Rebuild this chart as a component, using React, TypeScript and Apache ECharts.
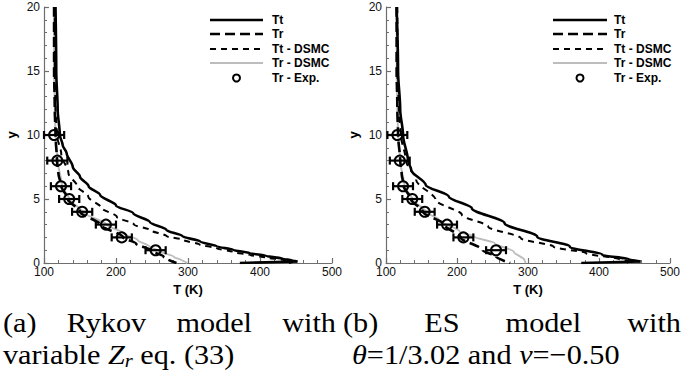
import React, { useEffect, useRef } from "react";
import * as echarts from "echarts";

// ---- data: [T (K), y] ----
const ttA = [[116,20],[117,15],[119,12],[122,10],[126,9.2],[131.5,8.57],[140,7.5],[150,6.74],[162,6],[178,5.31],[200,4.5],[224,3.88],[247,3.2],[270,2.58],[292,2.1],[317,1.67],[340,1.3],[363,1.02],[386,0.77],[409,0.55],[432,0.33],[445,0.2],[452,0.12]];
const ttWallA = [[452,0.12],[372,0]];
const trA = [[114,20],[114,15],[115,12],[116,10],[118,8],[120,7],[124,6],[133,5],[150,4],[178,3],[210,2],[228,1.5],[248,1],[266,0.5],[284,0]];
const ttDsmcA = [[115,20],[115,15],[116,12],[118,10],[124,8.5],[134,7],[146,6],[161.5,5.18],[180,4.3],[201,3.62],[225,3],[247,2.58],[270,2.1],[293.5,1.8],[316,1.45],[340,1.15],[363,0.85],[386,0.63],[409,0.42],[432,0.23],[446,0.1],[440,0]];
const trDsmcA = [[114,20],[114,15],[115,12],[116,10],[119,8],[125,6],[135,5],[153,4],[187,3],[210,2.32],[230,1.8],[247,1.27],[262,0.9],[280,0.49],[292,0.2],[296,0.1],[299,0]];

const ttB = [[115,20],[117,15],[120,12],[124,10],[131,8],[135.5,7.27],[156,6.1],[188.6,5.18],[221,4.27],[267,3.1],[313,2.05],[359,1.27],[405,0.63],[442,0.29],[458.5,0.12]];
const ttWallB = [[458.5,0.12],[375,0]];
const trB = [[115,20],[115,15],[116,12],[117,10],[120,8],[122,7],[125,6],[135,5],[152,4],[182,3],[205,2],[236,1],[255,0.5],[275,0]];
const ttDsmcB = [[116,20],[116,15],[118,12],[121,10],[128,8],[142.5,6.48],[170,4.92],[207,3.75],[244,2.84],[290,1.93],[336,1.27],[382,0.76],[428.5,0.29],[446,0.1],[440,0]];
const trDsmcB = [[115,20],[115,15],[116,12],[117,10],[120,8],[126,6],[137,5],[156,4],[175,3.36],[204,2.45],[225,2.05],[253,1.54],[280,0.88],[295,0.23],[297,0]];

const expY = [10, 8, 6, 5, 4, 3, 2, 1];
const expTA = [114, 118.5, 123.6, 135, 153, 186, 208, 255];
const expTB = [116, 119.4, 124, 137, 154.5, 186, 209, 255];
const expErr = 14;

const xTicks = [100, 500, 100]; // min, max, interval
const yTicks = [0, 20, 5];

const legendNames = ["Tt", "Tr", "Tt - DSMC", "Tr - DSMC", "Tr - Exp."];
const capA1 = ["(a)", "Rykov", "model", "with"];
const capB1 = ["(b)", "ES", "model", "with"];

const SANS = "'Liberation Sans', Arial, sans-serif";
const SERIF = "'Liberation Serif', 'Times New Roman', serif";
const AXC = "#6e6e6e";

function axisX(gi: number) {
  return {
    type: "value", gridIndex: gi, min: xTicks[0], max: xTicks[1], interval: xTicks[2],
    axisLine: { show: true, lineStyle: { color: AXC, width: 1.2 } },
    axisTick: { show: true, inside: true, length: 5, lineStyle: { color: AXC, width: 1.2 } },
    minorTick: { show: true, splitNumber: 5, length: 3, lineStyle: { color: AXC, width: 1 } },
    splitLine: { show: false },
    axisLabel: { color: "#111", fontSize: 12, fontFamily: SANS, margin: 3 },
    name: "T (K)", nameLocation: "middle", nameGap: 11,
    nameTextStyle: { color: "#000", fontSize: 13, fontWeight: "bold", fontFamily: SANS },
  };
}
function axisY(gi: number) {
  return {
    type: "value", gridIndex: gi, min: yTicks[0], max: yTicks[1], interval: yTicks[2],
    axisLine: { show: true, lineStyle: { color: AXC, width: 1.2 } },
    axisTick: { show: true, inside: true, length: 5, lineStyle: { color: AXC, width: 1.2 } },
    minorTick: { show: true, splitNumber: 5, length: 3, lineStyle: { color: AXC, width: 1 } },
    splitLine: { show: false },
    axisLabel: { color: "#111", fontSize: 12, fontFamily: SANS, margin: 4 },
    name: "y", nameLocation: "middle", nameGap: 26, nameRotate: 90,
    nameTextStyle: { color: "#000", fontSize: 13, fontWeight: "bold", fontFamily: SANS },
  };
}

function lineSeries(data: number[][], gi: number, style: any, smooth = true) {
  return {
    type: "line", xAxisIndex: gi, yAxisIndex: gi, data, symbol: "none",
    smooth: smooth ? 0.3 : false, smoothMonotone: "y",
    lineStyle: style, silent: true, z: 2,
  };
}

function expSeries(ts: number[], gi: number) {
  const pts = ts.map((t, i) => [t, expY[i]]);
  return [
    {
      type: "custom", xAxisIndex: gi, yAxisIndex: gi, z: 4,
      data: ts.map((t, i) => [t - expErr, t + expErr, expY[i]]),
      encode: { x: [0, 1], y: 2 },
      renderItem: (_p: any, api: any) => {
        const lo = api.coord([api.value(0), api.value(2)]);
        const hi = api.coord([api.value(1), api.value(2)]);
        const h = 4;
        const st = { stroke: "#000", lineWidth: 2.2 };
        return {
          type: "group",
          children: [
            { type: "line", shape: { x1: lo[0], y1: lo[1], x2: hi[0], y2: hi[1] }, style: st },
            { type: "line", shape: { x1: lo[0], y1: lo[1] - h, x2: lo[0], y2: lo[1] + h }, style: st },
            { type: "line", shape: { x1: hi[0], y1: hi[1] - h, x2: hi[0], y2: hi[1] + h }, style: st },
          ],
        };
      },
    },
    {
      type: "scatter", xAxisIndex: gi, yAxisIndex: gi, data: pts, symbol: "circle", symbolSize: 10, z: 5,
      itemStyle: { color: "rgba(255,255,255,0)", borderColor: "#000", borderWidth: 2, opacity: 1 },
    },
  ];
}

const styles = [
  { color: "#000", width: 2.6, type: "solid" },
  { color: "#000", width: 2.6, type: [10, 5] },
  { color: "#000", width: 2, type: [6, 5] },
  { color: "#bdbdbd", width: 2, type: "solid" },
];

function legend(x0: number, x1: number, tx: number) {
  const rows = [20, 34, 49, 63, 78];
  const els: any[] = [];
  rows.forEach((y, i) => {
    if (i < 4) {
      const s = styles[i];
      els.push({
        type: "line", shape: { x1: x0, y1: y, x2: x1, y2: y },
        style: { stroke: s.color, lineWidth: s.width, lineDash: Array.isArray(s.type) ? s.type : null },
      });
    } else {
      els.push({ type: "circle", shape: { cx: (x0 + x1) / 2, cy: y, r: 3.5 }, style: { fill: "none", stroke: "#000", lineWidth: 2 } });
    }
    els.push({
      type: "text", x: tx, y, style: { text: legendNames[i], font: `bold 12px ${SANS}`, fill: "#000", verticalAlign: "middle" },
    });
  });
  return els;
}

export default function App() {
  const ref = useRef<HTMLDivElement>(null);
  useEffect(() => {
    if (!ref.current) return;
    const chart = echarts.init(ref.current, null, { renderer: "svg" });
    const ctx = document.createElement("canvas").getContext("2d")!;
    const FS = 28;
    const SX = 1.08;
    const fnt = (size: number, it = false) => `${it ? "italic " : ""}${size}px ${SERIF}`;
    const mw = (t: string, size = FS, it = false) => { ctx.font = fnt(size, it); return ctx.measureText(t).width * SX; };
    const word = (text: string, x: number, y: number, size = FS, it = false) => ({
      type: "text", x, y, scaleX: SX, scaleY: 1,
      style: { text, font: fnt(size, it), fill: "#000", verticalAlign: "middle" },
    });
    const justify = (words: string[], x0: number, x1: number, y: number) => {
      const ws = words.map((w) => mw(w));
      const gap = (x1 - x0 - ws.reduce((a, b) => a + b, 0)) / (words.length - 1);
      let x = x0;
      return words.map((w, i) => { const el = word(w, x, y); x += ws[i] + gap; return el; });
    };
    const runs = (parts: [string, boolean, number, number][], x0: number, y: number) => {
      let x = x0;
      return parts.map(([t, it, size, dy]) => { const el = word(t, x, y + dy, size, it); x += mw(t, size, it); return el; });
    };
    const L1 = 322, L2 = 354;
    chart.setOption({
      animation: false,
      backgroundColor: "#fff",
      grid: [
        { left: 44, top: 7, width: 288, height: 256 },
        { left: 386, top: 7, width: 289, height: 256 },
      ],
      xAxis: [axisX(0), axisX(1)],
      yAxis: [axisY(0), axisY(1)],
      series: [
        lineSeries(trDsmcA, 0, styles[3]),
        lineSeries(ttDsmcA, 0, styles[2]),
        lineSeries(trA, 0, styles[1]),
        lineSeries(ttA, 0, styles[0]),
        lineSeries(ttWallA, 0, styles[0], false),
        ...expSeries(expTA, 0),
        lineSeries(trDsmcB, 1, styles[3]),
        lineSeries(ttDsmcB, 1, styles[2]),
        lineSeries(trB, 1, styles[1]),
        lineSeries(ttB, 1, styles[0]),
        lineSeries(ttWallB, 1, styles[0], false),
        ...expSeries(expTB, 1),
      ],
      graphic: [
        ...legend(210, 263, 272),
        ...legend(553, 607, 614),
        ...justify(capA1, 3, 336, L1),
        ...justify(capB1, 343, 681, L1),
        ...runs([["variable ", false, FS, 0], ["Z", true, FS, 0], ["r", true, 19, 6], [" eq. (33)", false, FS, 0]], 3, L2),
        ...runs([["θ", true, FS, 0], ["=1/3.02 and ", false, FS, 0], ["ν", true, FS, 0], ["=−0.50", false, FS, 0]], 352, L2),
      ],
    });
    return () => chart.dispose();
  }, []);
  return <div ref={ref} style={{ position: "absolute", left: 0, top: 0, width: 683, height: 385 }} />;
}
